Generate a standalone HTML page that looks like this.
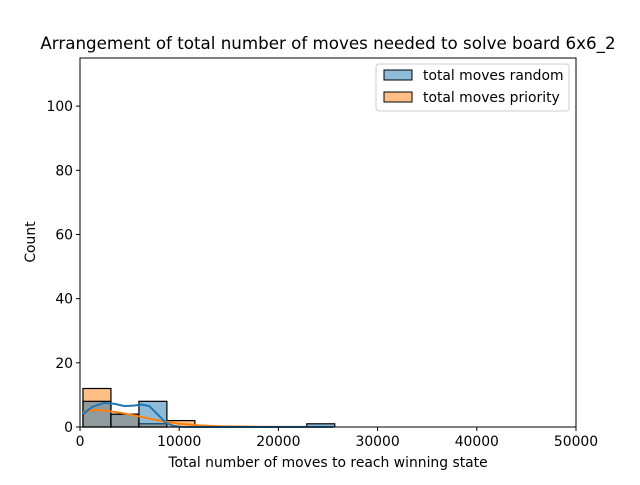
<!DOCTYPE html>
<html><head><meta charset="utf-8"><style>
body{margin:0;background:#fff;font-family:"Liberation Sans","DejaVu Sans",sans-serif}
svg text{font-family:"DejaVu Sans","Liberation Sans",sans-serif}
</style></head><body>
<svg id="chart" width="640" height="480" xmlns="http://www.w3.org/2000/svg"></svg>
<script>
const binEdges=[300,3120,5940,8760,11580,14400,17220,20040,22860,25680];
const randomCounts=[8,4,8,0,0,0,0,0,1];
const priorityCounts=[12,4,1,2,0,0,0,0,0];
const kdeRandomX=[300,1200,2400,3500,4500,5500,6200,7000,7800,8700,9500,10200,12000,16000,20000,25500];
const kdeRandomY=[4,6.2,7.5,7.2,6.5,6.7,7,6.5,4,1.2,0.3,0.05,0,0,0,0.05];
const kdePriorityX=[300,800,1500,2500,4000,5500,7000,8500,10000,12000,14000,17000,20000,25500];
const kdePriorityY=[4.5,5,5.3,5.1,4.5,3.6,2.6,1.7,1.0,0.5,0.25,0.1,0.04,0];
const xTicks=[0,10000,20000,30000,40000,50000];
const yTicks=[0,20,40,60,80,100];
const L=80,R=576,T=58,B=427,XMAX=50000,YMAX=115;
const X=v=>L+(v/XMAX)*(R-L), Y=v=>B-(v/YMAX)*(B-T);
const svg=document.getElementById('chart');const NS='http://www.w3.org/2000/svg';
function mk(tag,a,parent){const e=document.createElementNS(NS,tag);for(const k in a)e.setAttribute(k,a[k]);(parent||svg).appendChild(e);return e;}
let t=mk('text',{x:328,y:49,'text-anchor':'middle','font-size':'16.7'});t.textContent='Arrangement of total number of moves needed to solve board 6x6_2';


function bars(counts,fill,name){counts.forEach((c,i)=>{if(!c)return;const r=mk('rect',{x:X(binEdges[i]),y:Y(c),width:X(binEdges[i+1])-X(binEdges[i]),height:Y(0)-Y(c),fill:fill,'fill-opacity':0.5,stroke:'#000','stroke-width':1.2});

});}
bars(priorityCounts,'#ff7f0e','priority');
bars(randomCounts,'#1f77b4','random');
function line(xs,ys,col,name){const p=mk('polyline',{points:xs.map((x,i)=>X(x)+','+Y(ys[i])).join(' '),fill:'none',stroke:col,'stroke-width':2,'stroke-linejoin':'round'});

}
line(kdePriorityX,kdePriorityY,'#ff7f0e','kde-priority');
line(kdeRandomX,kdeRandomY,'#1f77b4','kde-random');
const frame=mk('rect',{x:L,y:T,width:R-L,height:B-T,fill:'none',stroke:'#000','stroke-width':1});


xTicks.forEach(v=>{mk('line',{x1:X(v),x2:X(v),y1:B,y2:B+4,stroke:'#000'});const tx=mk('text',{x:X(v),y:B+19,'text-anchor':'middle','font-size':'13.9'});tx.textContent=v;

});
yTicks.forEach(v=>{mk('line',{x1:L-4,x2:L,y1:Y(v),y2:Y(v),stroke:'#000'});const tx=mk('text',{x:L-7,y:Y(v)+5,'text-anchor':'end','font-size':'13.9'});tx.textContent=v;

});
t=mk('text',{x:328,y:467,'text-anchor':'middle','font-size':'13.9'});t.textContent='Total number of moves to reach winning state';


t=mk('text',{x:35,y:242,'text-anchor':'middle','font-size':'13.9',transform:'rotate(-90 35 242)'});t.textContent='Count';


const lg=mk('g',{});


mk('rect',{x:376,y:64,width:193,height:47,rx:3,fill:'#fff','fill-opacity':0.8,stroke:'#ccc'},lg);
[['total moves random','#1f77b4',75],['total moves priority','#ff7f0e',97]].forEach(([lab,c,y])=>{
mk('rect',{x:384,y:y-5,width:28,height:10,fill:c,'fill-opacity':0.5,stroke:'#000'},lg);
const tx=mk('text',{x:423,y:y+5,'font-size':'13.9'},lg);tx.textContent=lab;

});
</script>
</body></html>
